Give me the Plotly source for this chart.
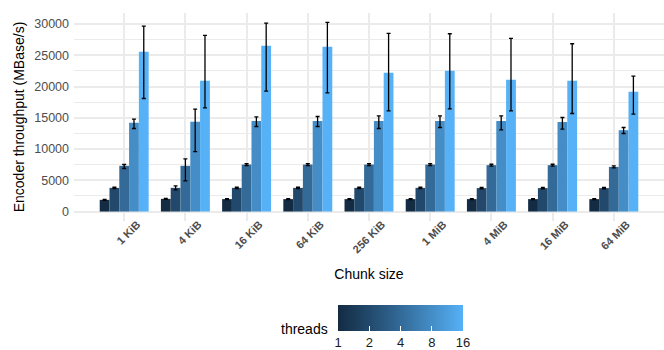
import math
import plotly.graph_objects as go

# ---- data -------------------------------------------------------------
chunks = ["1 KiB", "4 KiB", "16 KiB", "64 KiB", "256 KiB",
          "1 MiB", "4 MiB", "16 MiB", "64 MiB"]
threads = [1, 2, 4, 8, 16]

# mean encoder throughput (MBase/s) per chunk size, one list per thread count
tp_1 = [1870, 2030, 1990, 1990, 1990, 1990, 1990, 1990, 1990]
tp_2 = [3790, 3790, 3790, 3790, 3790, 3790, 3750, 3750, 3750]
tp_4 = [7320, 7320, 7520, 7520, 7520, 7520, 7420, 7420, 7150]
tp_8 = [14200, 14360, 14470, 14470, 14470, 14470, 14470, 14310, 13020]
tp_16 = [25570, 20930, 26530, 26370, 22210, 22530, 21090, 20930, 19160]

# lower / upper ends of the error bars
lo_1 = [1810, 1970, 1930, 1930, 1930, 1930, 1930, 1930, 1930]
hi_1 = [1930, 2090, 2050, 2050, 2050, 2050, 2050, 2050, 2050]
lo_2 = [3690, 3470, 3690, 3690, 3690, 3690, 3650, 3650, 3650]
hi_2 = [3890, 4110, 3890, 3890, 3890, 3890, 3850, 3850, 3850]
lo_4 = [6890, 4920, 7370, 7370, 7370, 7370, 7270, 7270, 6980]
hi_4 = [7530, 8440, 7670, 7670, 7670, 7670, 7570, 7570, 7320]
lo_8 = [13290, 9600, 13610, 13610, 13290, 13450, 13080, 13180, 12490]
hi_8 = [14790, 16390, 15160, 15210, 15320, 15320, 15320, 15050, 13450]
lo_16 = [18090, 16600, 19270, 19000, 16120, 16440, 16120, 15690, 15580]
hi_16 = [29680, 28180, 30160, 30260, 28500, 28450, 27700, 26850, 21680]

means = [tp_1, tp_2, tp_4, tp_8, tp_16]
lows = [lo_1, lo_2, lo_4, lo_8, lo_16]
highs = [hi_1, hi_2, hi_4, hi_8, hi_16]

# ---- colour gradient (CIELAB interpolation, dark navy -> light blue) ---
LOW_HEX, HIGH_HEX = "#132B43", "#56B1F7"


def _hex_to_rgb(h):
    h = h.lstrip("#")
    return [int(h[i:i + 2], 16) / 255 for i in (0, 2, 4)]


def _lin(c):
    return c / 12.92 if c <= 0.04045 else ((c + 0.055) / 1.055) ** 2.4


def _gam(c):
    c = max(0.0, min(1.0, c))
    return 12.92 * c if c <= 0.0031308 else 1.055 * c ** (1 / 2.4) - 0.055


WHITE = (0.95047, 1.0, 1.08883)


def _to_lab(h):
    r, g, b = [_lin(c) for c in _hex_to_rgb(h)]
    x = 0.4124 * r + 0.3576 * g + 0.1805 * b
    y = 0.2126 * r + 0.7152 * g + 0.0722 * b
    z = 0.0193 * r + 0.1192 * g + 0.9505 * b

    def f(t):
        return t ** (1 / 3) if t > 216 / 24389 else (24389 / 27 * t + 16) / 116

    fx, fy, fz = f(x / WHITE[0]), f(y / WHITE[1]), f(z / WHITE[2])
    return (116 * fy - 16, 500 * (fx - fy), 200 * (fy - fz))


def _from_lab(lab):
    L, a, b = lab
    fy = (L + 16) / 116
    fx = fy + a / 500
    fz = fy - b / 200

    def finv(t):
        return t ** 3 if t ** 3 > 216 / 24389 else (116 * t - 16) / (24389 / 27)

    x, y, z = finv(fx) * WHITE[0], finv(fy) * WHITE[1], finv(fz) * WHITE[2]
    r = 3.2406 * x - 1.5372 * y - 0.4986 * z
    g = -0.9689 * x + 1.8758 * y + 0.0415 * z
    bl = 0.0557 * x - 0.2040 * y + 1.0570 * z
    return "#%02x%02x%02x" % tuple(round(_gam(c) * 255) for c in (r, g, bl))


LAB_LO, LAB_HI = _to_lab(LOW_HEX), _to_lab(HIGH_HEX)


def ramp(t):
    return _from_lab(tuple(lo + (hi - lo) * t for lo, hi in zip(LAB_LO, LAB_HI)))


lmax = math.log2(max(threads))
colorscale = [[i / 20, ramp(i / 20)] for i in range(21)]

# ---- figure -----------------------------------------------------------
fig = go.Figure()
xpos = list(range(len(chunks)))

for n, m, lo, hi in zip(threads, means, lows, highs):
    fig.add_trace(go.Bar(
        x=xpos, y=m, name=str(n), offsetgroup=str(n),
        marker=dict(color=ramp(math.log2(n) / lmax), line=dict(width=0)),
        error_y=dict(type="data", symmetric=False,
                     array=[h - v for h, v in zip(hi, m)],
                     arrayminus=[v - l for v, l in zip(m, lo)],
                     color="black", thickness=1.3, width=2),
        showlegend=False,
    ))

# continuous colour key for thread count (log2 scale)
fig.add_trace(go.Scatter(
    x=[None], y=[None], mode="markers", showlegend=False, hoverinfo="skip",
    marker=dict(
        color=[0], cmin=0, cmax=lmax, colorscale=colorscale, showscale=True,
        colorbar=dict(
            orientation="h", thickness=26, len=125, lenmode="pixels",
            x=0.5534, xanchor="center", y=-0.404, yanchor="top",
            xpad=0, ypad=0, outlinewidth=0,
            tickvals=[math.log2(n) for n in threads],
            ticktext=[str(n) for n in threads],
            ticks="inside", ticklen=5, tickcolor="white", tickwidth=1,
            tickfont=dict(size=13, color="#1a1a1a"),
        ),
    ),
))

fig.add_annotation(
    text="threads", xref="paper", yref="paper", x=0.434, y=-0.519,
    xanchor="right", yanchor="middle", showarrow=False,
    font=dict(size=14, color="black"),
)

grid = "#EBEBEB"
fig.update_layout(
    width=664, height=350,
    margin=dict(l=74, r=0, t=13, b=129, autoexpand=False),
    paper_bgcolor="white", plot_bgcolor="white",
    barmode="group", bargap=0.2, bargroupgap=0,
    font=dict(family="Liberation Sans, Arial, sans-serif"),
    xaxis=dict(
        tickvals=xpos, ticktext=chunks, tickangle=-45,
        range=[-0.82, len(chunks) - 1 + 0.82],
        showgrid=True, gridcolor=grid, gridwidth=2,
        zeroline=False, showline=False, ticks="", automargin=False,
        ticklabelshift=13, ticklabelstandoff=-6,
        tickfont=dict(size=11, color="#4D4D4D", family="Liberation Sans, Arial, sans-serif", weight="bold"),
        title=dict(text="Chunk size", font=dict(size=14, color="black"), standoff=14),
    ),
    yaxis=dict(
        range=[-1513, 31773],
        tickvals=[0, 5000, 10000, 15000, 20000, 25000, 30000],
        ticktext=["0", "5000", "10000", "15000", "20000", "25000", "30000"],
        showgrid=True, gridcolor=grid, gridwidth=1.6,
        minor=dict(dtick=2500, tick0=0, showgrid=True, gridcolor=grid, gridwidth=0.8),
        zeroline=False, showline=False, ticks="", automargin=False,
        tickfont=dict(size=12.5, color="#4D4D4D"),
        ticklabelstandoff=4,
        title=dict(text="Encoder throughput (MBase/s)", font=dict(size=14, color="black"), standoff=6),
    ),
)

fig.write_html("out.html")
